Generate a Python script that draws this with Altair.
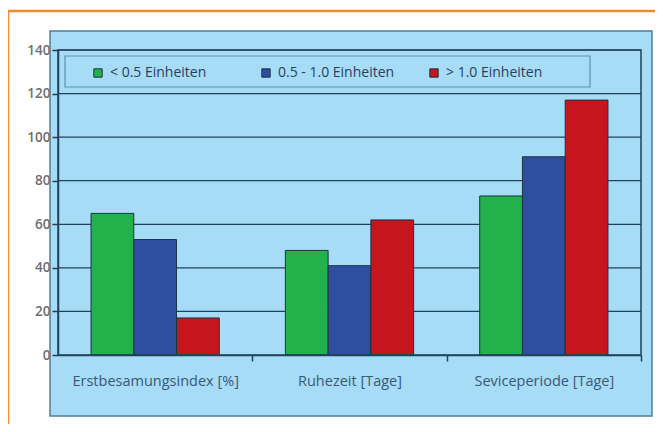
import altair as alt
import pandas as pd

categories = ["Erstbesamungsindex [%]", "Ruhezeit [Tage]", "Seviceperiode [Tage]"]
series = ["< 0.5 Einheiten", "0.5 - 1.0 Einheiten", "> 1.0 Einheiten"]
values_low = [65, 48, 73]
values_mid = [53, 41, 91]
values_high = [17, 62, 117]
y_ticks = [0, 20, 40, 60, 80, 100, 120, 140]
colors = ["#22b14a", "#2e4fa0", "#c4161c"]

rows = []
for i, c in enumerate(categories):
    for s, vals in zip(series, [values_low, values_mid, values_high]):
        rows.append({"category": c, "series": s, "value": vals[i]})
df = pd.DataFrame(rows)
grid_df = pd.DataFrame({"value": y_ticks[1:]})
one = pd.DataFrame({"a": [0]})

W, H = 583, 305
NAVY = "#23415f"
BG = "#a6dcf5"

y_axis = alt.Axis(title=None, values=y_ticks, grid=False, ticks=True, tickSize=6, tickWidth=1.5,
                  labelPadding=2, labelColor="#6e6e6e", labelFontSize=13.5,
                  labelFont="Open Sans", labelFontWeight=600, tickColor=NAVY,
                  domainColor=NAVY, domainWidth=1.5, zindex=1)
y_scale = alt.Scale(domain=[0, 140], nice=False)

orange = alt.Chart(one).mark_rect(fill="white", stroke="#f28a2e", strokeWidth=2.5).encode(
    x=alt.value(-50), x2=alt.value(640), y=alt.value(-39), y2=alt.value(420)
)
bluebox = alt.Chart(one).mark_rect(fill=BG, stroke="#4d7d9a", strokeWidth=1.5).encode(
    x=alt.value(-8), x2=alt.value(W + 11), y=alt.value(-19), y2=alt.value(H + 61)
)
legbox = alt.Chart(one).mark_rect(fill=BG, stroke="#5f8fae", strokeWidth=1.2).encode(
    x=alt.value(7), x2=alt.value(532), y=alt.value(6), y2=alt.value(37)
)
grid = alt.Chart(grid_df).mark_rule(color=NAVY, strokeWidth=1.2).encode(
    y=alt.Y("value:Q", scale=y_scale, axis=y_axis)
)
bars = alt.Chart(df).mark_bar(stroke="#1c3340", strokeWidth=1).encode(
    x=alt.X("category:N", sort=categories,
            scale=alt.Scale(paddingInner=0.34, paddingOuter=0.17),
            axis=alt.Axis(title=None, labelAngle=0, tickOffset=W / 6, labelOffset=-W / 6,
                          labelPadding=13, ticks=True, tickSize=6, tickWidth=1.5,
                          labelColor="#3a5878", labelFontSize=14.5,
                          labelFont="Open Sans", tickColor=NAVY, domainColor=NAVY,
                          domainWidth=1.5, grid=False, zindex=1)),
    xOffset=alt.XOffset("series:N", sort=series, scale=alt.Scale(paddingInner=0, paddingOuter=0)),
    y=alt.Y("value:Q", scale=y_scale, axis=y_axis),
    color=alt.Color("series:N", sort=series,
                    scale=alt.Scale(domain=series, range=colors),
                    legend=alt.Legend(title=None, orient="none", direction="horizontal",
                                      legendX=33, legendY=16, gridAlign="all", columnPadding=32,
                                      symbolType="square", symbolSize=70,
                                      symbolStrokeColor="#1c3340", symbolStrokeWidth=1,
                                      labelColor="#2a4060", labelFontSize=14,
                                      labelFont="Open Sans", labelOffset=5)),
)
frame = alt.Chart(one).mark_rect(fill=None, stroke=NAVY, strokeWidth=1.5).encode(
    x=alt.value(0), x2=alt.value(W), y=alt.value(0), y2=alt.value(H)
)

chart = alt.layer(orange, bluebox, legbox, grid, bars, frame).properties(
    width=W, height=H,
    autosize=alt.AutoSizeParams(type="none"),
    padding={"left": 50, "top": 42, "right": 14, "bottom": 69},
).configure_view(stroke=None)

chart.save("out.html", embed_options={"renderer": "svg", "actions": False})
